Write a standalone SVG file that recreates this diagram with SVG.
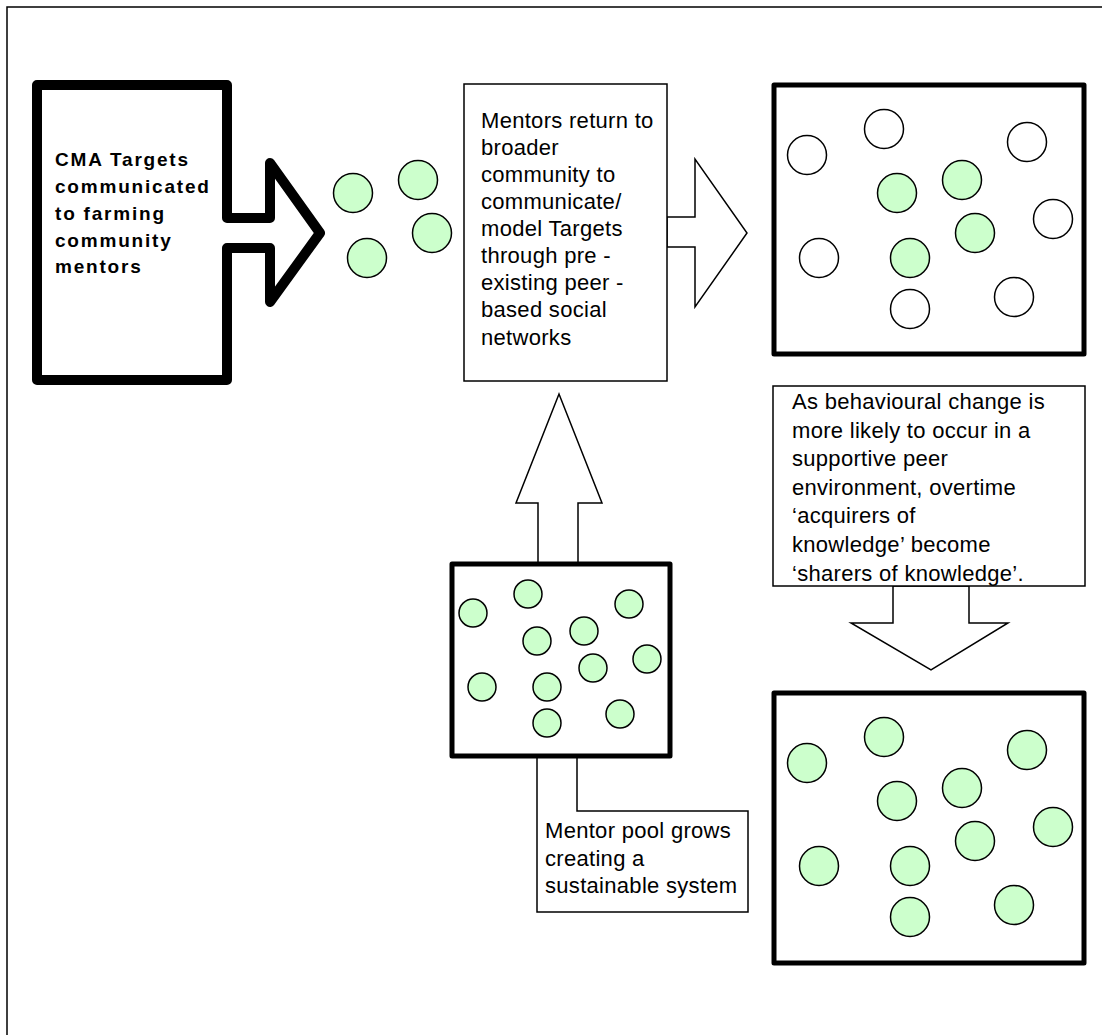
<svg xmlns="http://www.w3.org/2000/svg" width="1102" height="1035" viewBox="0 0 1102 1035">
<style>
.thin{fill:#fff;stroke:#000;stroke-width:1.5;stroke-linejoin:miter}
.thick{fill:#fff;stroke:#000;stroke-width:5;stroke-linejoin:round}
.g{fill:#ccffcc;stroke:#000;stroke-width:1.5}
.w{fill:#fff;stroke:#000;stroke-width:1.5}
.t{font-family:"Liberation Sans",Arial,sans-serif;font-size:22px;letter-spacing:0.3px;fill:#000}
.b{font-family:"Liberation Sans",Arial,sans-serif;font-size:19px;font-weight:bold;letter-spacing:1.8px;fill:#000}
</style>
<rect x="0" y="0" width="1102" height="1035" fill="#fff"/>
<path d="M7,1035 V7 H1102" fill="none" stroke="#000" stroke-width="1.5"/>

<g id="connectors">
  <polygon id="arrow-right" class="thin" points="667,217 695,217 695,159 747,233 695,307 695,247 667,247"/>
  <polygon id="arrow-up" class="thin" points="538,563 538,503 516,503 559,394 602,503 578,503 578,563"/>
  <polygon id="arrow-down" class="thin" points="893,586 893,623 851,623 931,670 1008,623 969,623 969,586"/>
  <polygon id="callout-leg" class="thin" points="537,756 537,912 748,912 748,811 577,811 577,756"/>
</g>

<g id="node-cma">
  <polygon points="37,85 227,85 227,218 270,218 270,163 320,233 270,302 270,248 227,248 227,380 37,380" fill="#fff" stroke="#000" stroke-width="10" stroke-linejoin="round"/>
  <text class="b" x="55" y="166">CMA Targets</text>
  <text class="b" x="55" y="193">communicated</text>
  <text class="b" x="55" y="220">to farming</text>
  <text class="b" x="55" y="247">community</text>
  <text class="b" x="55" y="273">mentors</text>
</g>

<g id="node-mentors">
  <circle class="g" cx="353" cy="193" r="19.5"/>
  <circle class="g" cx="418" cy="180" r="19.5"/>
  <circle class="g" cx="432" cy="233" r="19.5"/>
  <circle class="g" cx="367" cy="258" r="19.5"/>
</g>

<g id="node-return">
  <rect class="thin" x="464" y="84" width="203" height="297"/>
  <text class="t" x="481" y="128">Mentors return to</text>
  <text class="t" x="481" y="155">broader</text>
  <text class="t" x="481" y="182">community to</text>
  <text class="t" x="481" y="209">communicate/</text>
  <text class="t" x="481" y="236">model Targets</text>
  <text class="t" x="481" y="263">through pre -</text>
  <text class="t" x="481" y="290">existing peer -</text>
  <text class="t" x="481" y="317">based social</text>
  <text class="t" x="481" y="345">networks</text>
</g>

<g id="node-community">
  <rect class="thick" x="774" y="85" width="310" height="269"/>
  <circle class="w" cx="807" cy="155" r="19.5"/>
  <circle class="w" cx="884" cy="129" r="19.5"/>
  <circle class="w" cx="1027" cy="142" r="19.5"/>
  <circle class="g" cx="897" cy="193" r="19.5"/>
  <circle class="g" cx="962" cy="180" r="19.5"/>
  <circle class="w" cx="1053" cy="219" r="19.5"/>
  <circle class="g" cx="975" cy="233" r="19.5"/>
  <circle class="w" cx="819" cy="258" r="19.5"/>
  <circle class="g" cx="910" cy="258" r="19.5"/>
  <circle class="w" cx="910" cy="309" r="19.5"/>
  <circle class="w" cx="1014" cy="297" r="19.5"/>
</g>

<g id="node-behaviour">
  <rect class="thin" x="773" y="386" width="312" height="200"/>
  <text class="t" x="792" y="409">As behavioural change is</text>
  <text class="t" x="792" y="438">more likely to occur in a</text>
  <text class="t" x="792" y="466">supportive peer</text>
  <text class="t" x="792" y="495">environment, overtime</text>
  <text class="t" x="792" y="523">‘acquirers of</text>
  <text class="t" x="792" y="552">knowledge’ become</text>
  <text class="t" x="792" y="581">‘sharers of knowledge’.</text>
</g>

<g id="node-pool">
  <rect class="thick" x="452" y="564" width="218" height="192"/>
  <circle class="g" cx="473" cy="613" r="14"/>
  <circle class="g" cx="528" cy="594" r="14"/>
  <circle class="g" cx="629" cy="604" r="14"/>
  <circle class="g" cx="537" cy="641" r="14"/>
  <circle class="g" cx="584" cy="631" r="14"/>
  <circle class="g" cx="647" cy="659" r="14"/>
  <circle class="g" cx="593" cy="668" r="14"/>
  <circle class="g" cx="482" cy="687" r="14"/>
  <circle class="g" cx="547" cy="687" r="14"/>
  <circle class="g" cx="547" cy="723" r="14"/>
  <circle class="g" cx="620" cy="714" r="14"/>
</g>

<g id="node-callout">
  <text class="t" x="545" y="838">Mentor pool grows</text>
  <text class="t" x="545" y="866">creating a</text>
  <text class="t" x="545" y="893">sustainable system</text>
</g>

<g id="node-sharers">
  <rect class="thick" x="774" y="693" width="310" height="270"/>
  <circle class="g" cx="807" cy="763" r="19.5"/>
  <circle class="g" cx="884" cy="737" r="19.5"/>
  <circle class="g" cx="1027" cy="750" r="19.5"/>
  <circle class="g" cx="897" cy="801" r="19.5"/>
  <circle class="g" cx="962" cy="788" r="19.5"/>
  <circle class="g" cx="1053" cy="827" r="19.5"/>
  <circle class="g" cx="975" cy="841" r="19.5"/>
  <circle class="g" cx="819" cy="866" r="19.5"/>
  <circle class="g" cx="910" cy="866" r="19.5"/>
  <circle class="g" cx="910" cy="917" r="19.5"/>
  <circle class="g" cx="1014" cy="905" r="19.5"/>
</g>
</svg>
